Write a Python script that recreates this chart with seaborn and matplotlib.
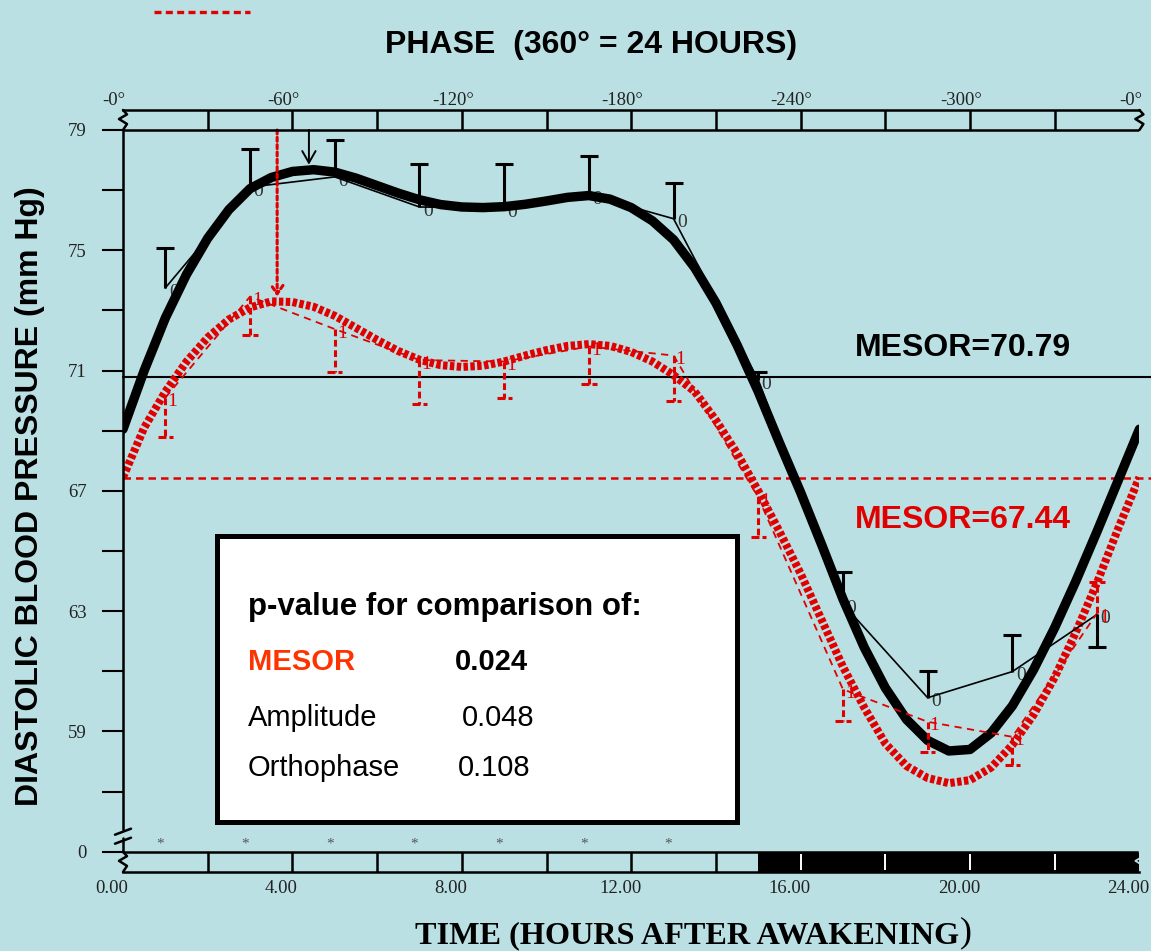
import numpy as np
import pandas as pd
import matplotlib
matplotlib.use("Agg")
import matplotlib.pyplot as plt
import seaborn as sns
from matplotlib.patches import Rectangle
from matplotlib.lines import Line2D
from matplotlib.transforms import ScaledTranslation

# ---------------------------------------------------------------------------
# Data
# ---------------------------------------------------------------------------
# Fitted rhythms, sampled every half hour after awakening
fit_hours = [0.0, 0.5, 1.0, 1.5, 2.0, 2.5, 3.0, 3.5, 4.0, 4.5, 5.0, 5.5, 6.0,
             6.5, 7.0, 7.5, 8.0, 8.5, 9.0, 9.5, 10.0, 10.5, 11.0, 11.5, 12.0,
             12.5, 13.0, 13.5, 14.0, 14.5, 15.0, 15.5, 16.0, 16.5, 17.0, 17.5,
             18.0, 18.5, 19.0, 19.5, 20.0, 20.5, 21.0, 21.5, 22.0, 22.5, 23.0,
             23.5, 24.0]
fit_group0 = [69.05, 71.0, 72.75, 74.2, 75.4, 76.35, 77.05, 77.42, 77.62, 77.68,
              77.6, 77.4, 77.15, 76.9, 76.68, 76.52, 76.44, 76.42, 76.45, 76.53,
              76.64, 76.76, 76.82, 76.7, 76.42, 75.98, 75.35, 74.42, 73.25, 71.85,
              70.3, 68.6, 66.95, 65.2, 63.4, 61.8, 60.45, 59.4, 58.7, 58.35,
              58.4, 58.95, 59.85, 61.05, 62.45, 64.0, 65.65, 67.35, 69.05]
fit_group1 = [67.45, 69.1, 70.3, 71.3, 72.1, 72.7, 73.1, 73.3, 73.28, 73.12,
              72.82, 72.42, 72.02, 71.65, 71.36, 71.18, 71.12, 71.16, 71.3, 71.5,
              71.68, 71.82, 71.88, 71.82, 71.62, 71.3, 70.85, 70.3, 69.35, 68.25,
              67.0, 65.65, 64.25, 62.7, 61.15, 59.8, 58.6, 57.85, 57.45, 57.28,
              57.38, 57.8, 58.55, 59.55, 60.8, 62.3, 63.95, 65.75, 67.45]

# Two-hourly means and the end of their SE bars
obs_hours = [1, 3, 5, 7, 9, 11, 13, 15, 17, 19, 21, 23]
mean_group0 = [73.75, 77.1, 77.44, 76.44, 76.4, 76.84, 76.05, 70.69, 63.24, 60.12, 60.99, 62.89]
se_end_group0 = [75.08, 78.36, 78.67, 77.87, 77.86, 78.14, 77.25, 70.96, 64.3, 61.02, 62.19, 61.82]
mean_group1 = [70.1, 73.46, 72.38, 71.35, 71.3, 71.8, 71.5, 66.78, 60.4, 59.32, 58.82, 62.93]
se_end_group1 = [68.79, 72.18, 70.94, 69.88, 70.08, 70.55, 70.0, 65.48, 59.36, 58.33, 57.88, 63.98]

mesor_group0 = 70.79
mesor_group1 = 67.44
acrophase_group0 = 4.39   # hours
acrophase_group1 = 3.64   # hours
signif_hours = [1, 3, 5, 7, 9, 11, 13]
dark_span = (15, 24)

hour_ticks = [0, 4, 8, 12, 16, 20, 24]
hour_labels = ["0.00", "4.00", "8.00", "12.00", "16.00", "20.00", "24.00"]
phase_labels = ["-0°", "-60°", "-120°", "-180°", "-240°", "-300°", "-0°"]
bar_dividers = [2, 4, 6, 8, 10, 12, 14, 16, 18, 20, 22]
bp_ticks = [55, 59, 63, 67, 71, 75, 79]
bp_labels = ["0", "59", "63", "67", "71", "75", "79"]
bp_minor = [57, 61, 65, 69, 73, 77]

p_names = ["MESOR", "Amplitude", "Orthophase"]
p_values = ["0.024", "0.048", "0.108"]

# ---------------------------------------------------------------------------
# Style
# ---------------------------------------------------------------------------
BG = "#BAE0E3"
RED = "#E00000"
ORANGE = "#FF3300"
INK = "#222222"

sns.set_theme(style="white", rc={"axes.facecolor": BG, "figure.facecolor": BG,
                                 "savefig.facecolor": BG})
plt.rcParams["font.family"] = ["Liberation Sans", "DejaVu Sans"]
SERIF = ["Liberation Serif", "DejaVu Serif"]

W, H, DPI = 1151, 951, 100
fig = plt.figure(figsize=(W / DPI, H / DPI), dpi=DPI)
ax = fig.add_axes([123 / W, 1 - 872 / H, 1016.4 / W, 762 / H])
Y0, Y1 = 54.325, 79.665
ax.set_xlim(0, 24)
ax.set_ylim(Y0, Y1)

PX_H = 1016.4 / 24.0          # pixels per hour
PX_V = 762.0 / (Y1 - Y0)      # pixels per mm Hg


def hx(px):
    return px / PX_H


def vy(px):
    return px / PX_V


# ---------------------------------------------------------------------------
# Fitted curves and observed profiles
# ---------------------------------------------------------------------------
fit_df = pd.DataFrame({"hour": fit_hours, "g0": fit_group0, "g1": fit_group1})
obs_df = pd.DataFrame({"hour": obs_hours, "g0": mean_group0, "g1": mean_group1})

sns.lineplot(data=fit_df, x="hour", y="g0", color="black", linewidth=6.8,
             estimator=None, sort=False, ax=ax, zorder=3)
sns.lineplot(data=fit_df, x="hour", y="g1", color=RED, linewidth=5.8,
             estimator=None, sort=False, ax=ax, zorder=3)
ax.lines[-1].set_dashes((0.55, 0.3))

sns.lineplot(data=obs_df, x="hour", y="g0", color="black", linewidth=1.2,
             estimator=None, sort=False, ax=ax, zorder=4)
sns.lineplot(data=obs_df, x="hour", y="g1", color=RED, linewidth=1.3,
             estimator=None, sort=False, ax=ax, zorder=4)
ax.lines[-1].set_dashes((4, 3))
ax.set_xlabel("")
ax.set_ylabel("")

# SE bars
h = np.array(obs_hours, dtype=float)
cap = hx(9)
ax.vlines(h, mean_group0, se_end_group0, colors="black", lw=2.2, zorder=5)
ax.hlines(se_end_group0, h - cap, h + cap, colors="black", lw=2.2, zorder=5)
ax.vlines(h, mean_group1, se_end_group1, colors=RED, lw=2.2,
          linestyles=(0, (2.2, 1.2)), zorder=5)
ax.hlines(se_end_group1, h - cap * 0.85, h + cap * 0.85, colors=RED, lw=2.2,
          linestyles=(0, (2.6, 1.0)), zorder=5)

# Group labels next to each mean
for hh, v in zip(obs_hours, mean_group0):
    ax.annotate("0", (hh, v), xytext=(6, -3), textcoords="offset points",
                ha="center", va="center", fontsize=14, family=SERIF,
                color="#333333", zorder=2)
for hh, v in zip(obs_hours, mean_group1):
    ax.annotate("1", (hh, v), xytext=(5, -3), textcoords="offset points",
                ha="center", va="center", fontsize=14, family=SERIF,
                color=RED, zorder=2)

# Acrophase arrows
ax.annotate("", xy=(acrophase_group0, max(fit_group0) + vy(5)),
            xytext=(acrophase_group0, 79),
            arrowprops=dict(arrowstyle="->,head_length=0.7,head_width=0.4",
                            color="black", lw=1.4, shrinkA=0, shrinkB=0),
            zorder=6)
ax.annotate("", xy=(acrophase_group1, max(fit_group1) + vy(5)),
            xytext=(acrophase_group1, 79),
            arrowprops=dict(arrowstyle="->,head_length=0.5,head_width=0.35",
                            color=RED, lw=2.2, linestyle=(0, (1.3, 1.1)),
                            shrinkA=0, shrinkB=0),
            zorder=6)

# MESOR reference lines
x_end = 1 + hx(12) / 24
ax.axhline(mesor_group0, 0, x_end, color="black", lw=1.5, clip_on=False, zorder=2)
ax.axhline(mesor_group1, 0, x_end, color=RED, lw=1.8, ls=(0, (3, 2)),
           clip_on=False, zorder=2)

# ---------------------------------------------------------------------------
# Phase bar (top) and light/dark bar (bottom)
# ---------------------------------------------------------------------------
ax.hlines([79, 55], 0, 24, colors="black", lw=1.8, zorder=6)
ax.vlines(bar_dividers, 79, Y1, colors="black", lw=1.8, zorder=6)
ax.add_patch(Rectangle((dark_span[0], Y0), dark_span[1] - dark_span[0], 55 - Y0,
                       facecolor="black", edgecolor="none", zorder=6))
ax.vlines([d for d in bar_dividers if d < dark_span[0]], Y0, 55,
          colors="black", lw=1.8, zorder=6)
ax.vlines([d for d in bar_dividers if d > dark_span[0]], Y0 + vy(2), 55 - vy(2),
          colors="white", lw=1.4, zorder=7)


def zigzag(x, ya, yb, color="black", lw=1.8):
    a = hx(4)
    xs = [x, x + a, x - a, x + a, x]
    ys = [ya, ya + 0.3 * (yb - ya), ya + 0.55 * (yb - ya), ya + 0.78 * (yb - ya), yb]
    ax.plot(xs, ys, color=color, lw=lw, clip_on=False, zorder=8)


zigzag(0, 79, Y1)
zigzag(24, 79, Y1)
zigzag(0, Y0, 55)
zigzag(24, Y0, 55, color=BG, lw=1.3)

# Axis break on the pressure axis
ax.plot([0, 0], [55, 55 + vy(14)], color="black", lw=1.8, clip_on=False, zorder=8)
for yc in (55 + vy(20), 55 + vy(11)):
    ax.plot([-hx(8), hx(8)], [yc - vy(3), yc + vy(3)], color="black", lw=1.8,
            clip_on=False, zorder=8)

# Significance marks above the time bar
for sh in signif_hours:
    ax.text(sh - hx(5), 55 + vy(8), "*", ha="center", va="center", fontsize=11,
            color="#555555", family=SERIF, zorder=8)

# ---------------------------------------------------------------------------
# Axes, ticks
# ---------------------------------------------------------------------------
for side in ("top", "bottom", "left"):
    ax.spines[side].set_visible(True)
    ax.spines[side].set_color("black")
    ax.spines[side].set_linewidth(1.8)
    ax.spines[side].set_zorder(8)
ax.spines["right"].set_visible(False)
ax.spines["left"].set_bounds(55 + vy(23), 79)

ax.set_yticks(bp_ticks, labels=bp_labels)
ax.set_yticks(bp_minor, minor=True)
ax.tick_params(axis="y", which="both", left=True, direction="out", length=15,
               width=1.5, color="black")
ax.tick_params(axis="y", which="major", pad=11, labelsize=13.5, labelcolor=INK)
for lab in ax.get_yticklabels():
    lab.set_fontfamily(SERIF)

ax.set_xticks(hour_ticks, labels=hour_labels)
ax.tick_params(axis="x", bottom=True, length=0, pad=6, labelsize=13.5, labelcolor=INK)
shift_bottom = ScaledTranslation(-11 / DPI, 0, fig.dpi_scale_trans)
for lab in ax.get_xticklabels():
    lab.set_fontfamily(SERIF)
    lab.set_transform(lab.get_transform() + shift_bottom)

sec = ax.secondary_xaxis("top")
sec.set_xticks(hour_ticks, labels=phase_labels)
sec.tick_params(length=0, pad=0.5, labelsize=13.5, labelcolor=INK)
for sp in sec.spines.values():
    sp.set_visible(False)
shift_top = ScaledTranslation(-9 / DPI, 0, fig.dpi_scale_trans)
for lab in sec.get_xticklabels():
    lab.set_fontfamily(SERIF)
    lab.set_transform(lab.get_transform() + shift_top)

# ---------------------------------------------------------------------------
# Texts
# ---------------------------------------------------------------------------
fig.text(591 / W, 1 - 45 / H, "PHASE  (360° = 24 HOURS)", ha="center",
         va="center", fontsize=23, fontweight="bold", color="black")
fig.text(30 / W, 1 - 496 / H, "DIASTOLIC BLOOD PRESSURE (mm Hg)", rotation=90,
         ha="center", va="center", fontsize=23, fontweight="bold", color="black")

xl = fig.text(415 / W, 1 - 943 / H, "TIME (HOURS AFTER AWAKENING", ha="left",
              va="baseline", fontsize=23.2, fontweight="bold", family=SERIF,
              color="black")
fig.canvas.draw()
bb = xl.get_window_extent(renderer=fig.canvas.get_renderer())
fig.text(bb.x1 / fig.bbox.width + 1 / W, 1 - 941 / H, ")", ha="left",
         va="baseline", fontsize=26, family=SERIF, color="black")

fig.text(855 / W, 1 - 348 / H, f"MESOR={mesor_group0:.2f}", ha="left",
         va="center", fontsize=23, fontweight="bold", color="black")
fig.text(855 / W, 1 - 520 / H, f"MESOR={mesor_group1:.2f}", ha="left",
         va="center", fontsize=23, fontweight="bold", color=RED)

# p-value box
fig.add_artist(Rectangle((217 / W, 1 - 822 / H), 520 / W, 286 / H,
                         transform=fig.transFigure, facecolor="white",
                         edgecolor="black", lw=3.6, zorder=10))
fig.text(248 / W, 1 - 607 / H, "p-value for comparison of:", ha="left",
         va="center", fontsize=22.5, fontweight="bold", color="black", zorder=11)
row_y = [662, 718, 768]
val_x = [455, 462, 458]
for i, (name, val) in enumerate(zip(p_names, p_values)):
    first = i == 0
    fig.text(248 / W, 1 - row_y[i] / H, name, ha="left", va="center",
             fontsize=21, fontweight="bold" if first else "normal",
             color=ORANGE if first else "black", zorder=11)
    fig.text(val_x[i] / W, 1 - row_y[i] / H, val, ha="left", va="center",
             fontsize=21, fontweight="bold" if first else "normal",
             color="black", zorder=11)

# short red dashed key at the upper left
fig.add_artist(Line2D([154 / W, 250 / W], [1 - 12 / H, 1 - 12 / H],
                      transform=fig.transFigure, color=RED, lw=2.4,
                      dashes=(2.1, 1.3)))

fig.savefig("out.png", dpi=DPI)
